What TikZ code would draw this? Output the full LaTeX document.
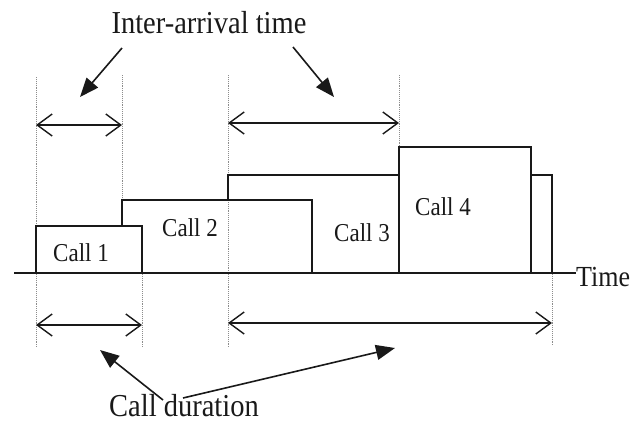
\documentclass[tikz,border=0pt]{standalone}
\usepackage{fontspec}
\usepackage{graphicx}
\setmainfont{Liberation Serif}
\usetikzlibrary{arrows.meta}
\newcommand{\tallt}[1]{\scalebox{1}[1.12]{#1}}
\begin{document}
\begin{tikzpicture}[x=1pt,y=-1pt,
  guide/.style={black!45, densely dotted, line width=0.9pt},
  box/.style={black!90, line width=1.4pt},
  dimarrow/.style={black!90, line width=1.4pt,
    {Straight Barb[length=15pt,width=22pt]}-{Straight Barb[length=15pt,width=22pt]}},
  pointer/.style={black!90, line width=1.6pt, -{Triangle[length=19pt,width=15pt]}},
  lab/.style={font=\fontsize{23}{23}\selectfont, inner sep=0pt, text=black!90},
  titlelab/.style={font=\fontsize{28.5}{29}\selectfont, inner sep=0pt, text=black!90}]
\useasboundingbox (0,0) rectangle (644,426);

% guide lines (dotted)
\draw[guide] (36,77) -- (36,226);
\draw[guide] (36,274) -- (36,348);
\draw[guide] (122,75) -- (122,200);
\draw[guide] (142,274) -- (142,348);
\draw[guide] (228,75) -- (228,175);
\draw[guide] (228,200) -- (228,348);
\draw[guide] (399,75) -- (399,147);
\draw[guide] (552,274) -- (552,346);

% call boxes
\draw[box] (36,273) -- (36,226) -- (142,226) -- (142,273);
\draw[box] (122,226) -- (122,200) -- (312,200) -- (312,273);
\draw[box] (228,200) -- (228,175) -- (399,175);
\draw[box] (531,175) -- (552,175) -- (552,273);
\draw[box] (399,273) -- (399,147) -- (531,147) -- (531,273);

% labels
\node[lab] (c1) at (81,253) {\tallt{Call 1}};
\node[lab] (c2) at (190,228) {\tallt{Call 2}};
\node[lab] (c3) at (362,233) {\tallt{Call 3}};
\node[lab] (c4) at (443,207) {\tallt{Call 4}};
\node[lab, anchor=west, font=\fontsize{26}{26}\selectfont] (time) at (576,277) {\tallt{Time}};

% time axis
\coordinate (axs) at (14,273);
\draw[box] (axs) -- (axs -| time.west);

% dimension arrows
\coordinate (ia1a) at (36,125);
\coordinate (ia1b) at (122,125);
\coordinate (ia2a) at (228,123);
\coordinate (ia2b) at (399,123);
\coordinate (cd1a) at (36,325);
\coordinate (cd1b) at (142,325);
\coordinate (cd2a) at (228,323);
\coordinate (cd2b) at (552,323);
\draw[dimarrow] (ia1a) -- (ia1b);
\draw[dimarrow] (ia2a) -- (ia2b);
\draw[dimarrow] (cd1a) -- (cd1b);
\draw[dimarrow] (cd2a) -- (cd2b);

% titles and pointers
\node[titlelab] (iat) at (209,23) {\tallt{Inter-arrival time}};
\node[titlelab] (cdt) at (184,406) {\tallt{Call duration}};
\coordinate (p1s) at (122,48);
\coordinate (p1e) at (80,97);
\coordinate (p2s) at (293,47);
\coordinate (p2e) at (334,97);
\coordinate (p3s) at (163,400);
\coordinate (p3e) at (100,350);
\coordinate (p4s) at (183,398);
\coordinate (p4e) at (395,348);
\draw[pointer] (p1s) -- (p1e);
\draw[pointer] (p2s) -- (p2e);
\draw[pointer] (p3s) -- (p3e);
\draw[pointer] (p4s) -- (p4e);
\end{tikzpicture}
\end{document}
